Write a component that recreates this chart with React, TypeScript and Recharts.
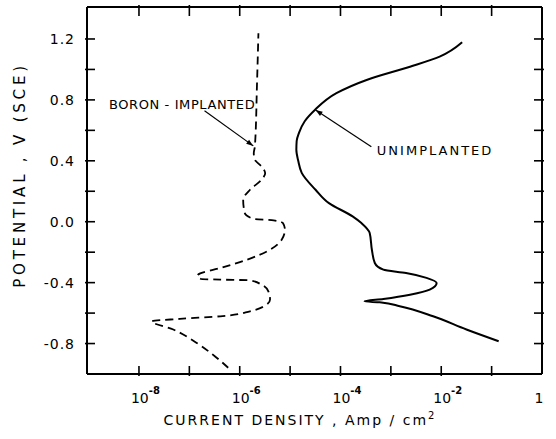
import React from 'react';
import { LineChart, Line, XAxis, YAxis, ReferenceLine, ReferenceDot, Label } from 'recharts';

const FONT = "'DejaVu Sans', 'Liberation Sans', sans-serif";

// Potential, V (SCE) — boron-implanted curve (ascending)
const boronPotential = [
  -0.959, -0.883, -0.796, -0.708, -0.654, -0.638, -0.621, -0.588, -0.551, -0.511,
  -0.457, -0.413, -0.385, -0.380, -0.376, -0.354, -0.341, -0.304, -0.249, -0.184,
  -0.118, -0.052, -0.009, 0.009, 0.018, 0.057, 0.144, 0.21, 0.275, 0.319,
  0.363, 0.407, 0.45, 0.494, 0.9, 1.237,
];
// Current density, Amp/cm2 — boron-implanted curve
const boronCurrent = [
  5.9e-7, 3.2e-7, 1.4e-7, 4.8e-8, 1.8e-8, 6.5e-8, 4.1e-7, 1.6e-6, 3.2e-6, 4.0e-6,
  3.7e-6, 2.7e-6, 1.6e-6, 4.1e-7, 1.7e-7, 1.45e-7, 1.6e-7, 4.1e-7, 1.4e-6, 4.0e-6,
  6.8e-6, 7.9e-6, 7.2e-6, 4.7e-6, 1.9e-6, 1.26e-6, 1.17e-6, 1.6e-6, 2.7e-6, 3.2e-6,
  2.7e-6, 2.0e-6, 1.9e-6, 2.0e-6, 2.2e-6, 2.35e-6,
];

// Potential, V (SCE) — unimplanted curve (ascending)
const unimplPotential = [
  -0.785, -0.708, -0.621, -0.555, -0.529, -0.523, -0.507, -0.479, -0.446, -0.402,
  -0.369, -0.337, -0.315, -0.271, -0.184, -0.074, -0.009, 0.035, 0.122, 0.21,
  0.321, 0.40, 0.472, 0.53, 0.583, 0.66, 0.734, 0.844, 0.931, 1.018, 1.084, 1.178,
];
// Current density, Amp/cm2 — unimplanted curve
const unimplCurrent = [
  0.138, 0.0316, 6.9e-3, 1.5e-3, 6.0e-4, 3.0e-4, 7.1e-4, 2.4e-3, 5.9e-3, 8.1e-3,
  5.1e-3, 2.0e-3, 7.1e-4, 4.8e-4, 4.2e-4, 3.8e-4, 2.6e-4, 1.74e-4, 5.9e-5, 3.2e-5,
  1.7e-5, 1.45e-5, 1.33e-5, 1.35e-5, 1.5e-5, 1.95e-5, 3.1e-5, 8.3e-5, 3.3e-4, 2.4e-3, 9.3e-3, 0.026,
];

const xTicks = [1e-8, 1e-7, 1e-6, 1e-5, 1e-4, 1e-3, 1e-2, 1e-1, 1];
const yTicks = [-0.8, -0.6, -0.4, -0.2, 0.0, 0.2, 0.4, 0.6, 0.8, 1.0, 1.2];
const xDomain = [9.3e-10, 1];
const yDomain = [-1.0, 1.41];

// annotation anchors (data coordinates)
const boronLabel = { x: 2.54e-9, y: 0.741, text: 'BORON - IMPLANTED' };
const boronArrow = [{ x: 2.0e-7, y: 0.728 }, { x: 1.86e-6, y: 0.498 }];
const unimplLabel = { x: 5.27e-4, y: 0.436, text: 'UNIMPLANTED' };
const unimplArrow = [{ x: 4.1e-4, y: 0.492 }, { x: 3.2e-5, y: 0.734 }];

const boronData = boronPotential.map((v, i) => ({ x: boronCurrent[i], v }));
const unimplData = unimplPotential.map((v, i) => ({ x: unimplCurrent[i], v }));

const XTickBottom = (props: any) => {
  const { x, y, payload } = props;
  const e = Math.round(Math.log10(payload.value));
  let label: any = null;
  if (e % 2 === 0) {
    label = e === 0 ? (
      <text x={x - 3} y={y + 27} fontFamily={FONT} fontSize={14} fill="#000" textAnchor="middle">1</text>
    ) : (
      <text x={x - 8} y={y + 27} fontFamily={FONT} fontSize={14} fill="#000">
        <tspan>10</tspan>
        <tspan dy={-9} fontSize={10} fontWeight="bold">{'-' + -e}</tspan>
      </text>
    );
  }
  return (
    <g>
      {e !== 0 ? <line x1={x} y1={y} x2={x} y2={y - 10} stroke="#000" strokeWidth={1.6} /> : null}
      {label}
    </g>
  );
};

const XTickTop = (props: any) => {
  const { x, y, payload } = props;
  if (payload.value >= 1) return <g />;
  return (
    <g>
      <line x1={x} y1={y} x2={x} y2={y + 11} stroke="#000" strokeWidth={1.6} />
    </g>
  );
};

const YTickLeft = (props: any) => {
  const { x, y, payload } = props;
  const k = Math.round(payload.value * 10);
  return (
    <g>
      <line x1={x} y1={y} x2={x + 10} y2={y} stroke="#000" strokeWidth={1.6} />
      {k % 4 === 0 ? (
        <text x={x - 10} y={y + 5} textAnchor="end" fontFamily={FONT} fontSize={14} letterSpacing={1} fill="#000">
          {payload.value.toFixed(1)}
        </text>
      ) : null}
    </g>
  );
};

const YTickRight = (props: any) => {
  const { x, y } = props;
  return (
    <g>
      <line x1={x} y1={y} x2={x - 10} y2={y} stroke="#000" strokeWidth={1.6} />
    </g>
  );
};

const XTitle = (props: any) => {
  const vb = props.viewBox;
  return (
    <text x={vb.x + 213} y={vb.y + 51} textAnchor="middle" fontFamily={FONT} fontSize={14} letterSpacing={2} fill="#000">
      CURRENT DENSITY , Amp / cm<tspan dy={-6} fontSize={10}>2</tspan>
    </text>
  );
};

const YTitle = (props: any) => {
  const vb = props.viewBox;
  const cx = vb.x + 20;
  const cy = vb.y + 168;
  return (
    <text x={cx} y={cy} transform={`rotate(-90 ${cx} ${cy})`} textAnchor="middle" dominantBaseline="central" fontFamily={FONT} fontSize={15} letterSpacing={3.8} fill="#000">
      POTENTIAL , V (SCE)
    </text>
  );
};

const Arrow = (props: any) => {
  const { x1, y1, x2, y2 } = props;
  const ang = Math.atan2(y2 - y1, x2 - x1);
  const L = 7, W = 2.5;
  const bx = x2 - L * Math.cos(ang), by = y2 - L * Math.sin(ang);
  const px = -Math.sin(ang) * W, py = Math.cos(ang) * W;
  return (
    <g>
      <line x1={x1} y1={y1} x2={x2} y2={y2} stroke="#000" strokeWidth={1.2} />
      <polygon points={`${x2},${y2} ${bx + px},${by + py} ${bx - px},${by - py}`} fill="#000" />
    </g>
  );
};

const makeText = (text: string, spacing: number, size: number) => (props: any) => (
  <text x={props.cx} y={props.cy} fontFamily={FONT} fontSize={size} letterSpacing={spacing} fill="#000">
    {text}
  </text>
);

export default function App() {
  const axisLine = { stroke: '#000', strokeWidth: 2 };
  return (
    <div style={{ position: 'absolute', left: 0, top: 0, background: '#fff' }}>
      <LineChart width={556} height={439} margin={{ top: 0, right: 0, bottom: 0, left: 0 }}>
        <XAxis xAxisId="b" type="number" dataKey="x" scale="log" domain={xDomain} allowDataOverflow
          ticks={xTicks} interval={0} orientation="bottom" height={65} tickSize={0}
          tick={<XTickBottom />} axisLine={axisLine} tickLine={false}>
          <Label content={XTitle} />
        </XAxis>
        <XAxis xAxisId="t" type="number" dataKey="x" scale="log" domain={xDomain} allowDataOverflow
          ticks={xTicks} interval={0} orientation="top" height={7} tickSize={0}
          tick={<XTickTop />} axisLine={axisLine} tickLine={false} />
        <YAxis yAxisId="l" type="number" domain={yDomain} allowDataOverflow ticks={yTicks} interval={0}
          orientation="left" width={87} tickSize={0} tick={<YTickLeft />}
          axisLine={axisLine} tickLine={false}>
          <Label content={YTitle} />
        </YAxis>
        <YAxis yAxisId="r" type="number" domain={yDomain} allowDataOverflow ticks={yTicks} interval={0}
          orientation="right" width={14} tickSize={0} tick={<YTickRight />}
          axisLine={axisLine} tickLine={false} />
        <Line xAxisId="b" yAxisId="l" data={unimplData} dataKey="v" type="monotoneY" stroke="#000"
          strokeWidth={2} dot={false} activeDot={false} isAnimationActive={false} />
        <Line xAxisId="b" yAxisId="l" data={boronData} dataKey="v" type="monotoneY" stroke="#000"
          strokeWidth={1.8} strokeDasharray="8 5" dot={false} activeDot={false} isAnimationActive={false} />
        <ReferenceLine xAxisId="b" yAxisId="l" segment={boronArrow} shape={Arrow} />
        <ReferenceLine xAxisId="b" yAxisId="l" segment={unimplArrow} shape={Arrow} />
        <ReferenceDot xAxisId="b" yAxisId="l" x={boronLabel.x} y={boronLabel.y} r={0}
          shape={makeText(boronLabel.text, 0.6, 13)} />
        <ReferenceDot xAxisId="b" yAxisId="l" x={unimplLabel.x} y={unimplLabel.y} r={0}
          shape={makeText(unimplLabel.text, 2, 13)} />
      </LineChart>
    </div>
  );
}
